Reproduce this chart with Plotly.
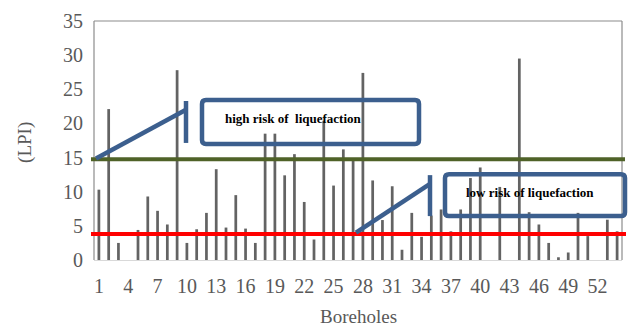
import plotly.graph_objects as go

# ---- data ----
boreholes = list(range(1, 55))
lpi = [10.3, 22.1, 2.5, 0, 4.4, 9.3, 7.2, 5.2, 27.8, 2.5,
       4.5, 6.9, 13.3, 4.75, 9.5, 4.6, 2.5, 18.5, 18.5, 12.4,
       15.5, 8.5, 3.0, 20.4, 10.9, 16.2, 14.6, 27.4, 11.65, 5.85,
       10.8, 1.5, 6.9, 3.4, 6.5, 7.4, 4.2, 7.4, 12.0, 13.55,
       0, 10.7, 0, 29.5, 7.0, 5.2, 2.5, 0.4, 1.1, 6.9,
       3.5, 0, 5.9, 4.2]
x_ticks = list(range(1, 55, 3))
x_tick_labels = [str(v) for v in x_ticks]
y_ticks = [0, 5, 10, 15, 20, 25, 30, 35]
high_risk_threshold = 14.75
low_risk_threshold = 3.8
labels = ["high risk of&nbsp; liquefaction", "low risk of liquefaction"]

# ---- layout geometry (pixels -> paper) ----
L, R, T, B = 94, 622, 15, 260
W, H = R - L, B - T
def px(x):
    return (x - L) / W
def py(y):
    return (B - y) / H

FONT = "Liberation Serif"
GRAY = "#595959"
BLUE = "#3C5F8E"

fig = go.Figure(go.Bar(x=boreholes, y=lpi, width=0.28,
                       marker=dict(color="#636363", line=dict(width=0))))

def rrect(x0, y0, x1, y1, r=4):
    # rounded rectangle path in paper coords; inputs in pixels
    rx, ry = r / W, r / H
    a, b, c, d = px(x0), py(y1), px(x1), py(y0)  # left, bottom, right, top
    return (f"M {a+rx} {d} L {c-rx} {d} Q {c} {d} {c} {d-ry} "
            f"L {c} {b+ry} Q {c} {b} {c-rx} {b} L {a+rx} {b} "
            f"Q {a} {b} {a} {b+ry} L {a} {d-ry} Q {a} {d} {a+rx} {d} Z")

shapes = []
# plot frame
for (x0, y0, x1, y1) in [(0, 0, 0, 1), (0, 1, 1, 1), (1, 1, 1, 0)]:
    shapes.append(dict(type="line", xref="paper", yref="paper", x0=x0, y0=y0, x1=x1, y1=y1,
                       line=dict(color="#8c8c8c", width=1.2)))
# threshold lines
shapes.append(dict(type="line", xref="paper", yref="y", x0=px(91), x1=px(625),
                   y0=high_risk_threshold, y1=high_risk_threshold,
                   line=dict(color="#4F6228", width=4)))
shapes.append(dict(type="line", xref="paper", yref="y", x0=px(91), x1=px(626),
                   y0=low_risk_threshold, y1=low_risk_threshold,
                   line=dict(color="#FF0000", width=4)))
# callouts
for path in [rrect(202, 96, 419, 141), rrect(445, 172, 625, 215)]:
    shapes.append(dict(type="path", xref="paper", yref="paper", path=path,
                       line=dict(color=BLUE, width=4.5)))
for (x0, y0, x1, y1) in [(96, 156, 186, 106), (186, 97, 186, 140),
                         (356, 232, 430, 182), (430, 173, 430, 215)]:
    shapes.append(dict(type="line", xref="paper", yref="paper",
                       x0=px(x0), y0=py(y0), x1=px(x1), y1=py(y1),
                       line=dict(color=BLUE, width=4.5)))

def ann(text, x, y, size, color, angle=0):
    return dict(text=text, xref="paper", yref="paper", x=px(x), y=py(y),
                xanchor="center", yanchor="middle", textangle=angle,
                showarrow=False, font=dict(family=FONT, size=size, color=color))

annotations = [
    ann("<b>" + labels[0] + "</b>", 293, 115, 13, "black"),
    ann("<b>" + labels[1] + "</b>", 530, 191, 13, "black"),
    ann("(LPI)", 25, 140, 19, GRAY, -90),
    ann("Boreholes", 358, 318, 19, GRAY),
]

fig.update_layout(
    width=632, height=331,
    margin=dict(l=L, r=632 - R, t=T, b=331 - B),
    paper_bgcolor="white", plot_bgcolor="white",
    showlegend=False,
    shapes=shapes, annotations=annotations,
    xaxis=dict(range=[0.5, 54.5], tickvals=x_ticks, ticktext=x_tick_labels,
               showgrid=False, zeroline=False, showline=True, linecolor="#d9d9d9",
               linewidth=1, ticks="", ticklabelstandoff=8,
               tickfont=dict(family=FONT, size=20, color=GRAY)),
    yaxis=dict(range=[0, 35], tickvals=y_ticks, showgrid=False, zeroline=False,
               showline=False, ticks="", ticklabelstandoff=10,
               tickfont=dict(family=FONT, size=20, color=GRAY)),
)

fig.write_html("out.html")
